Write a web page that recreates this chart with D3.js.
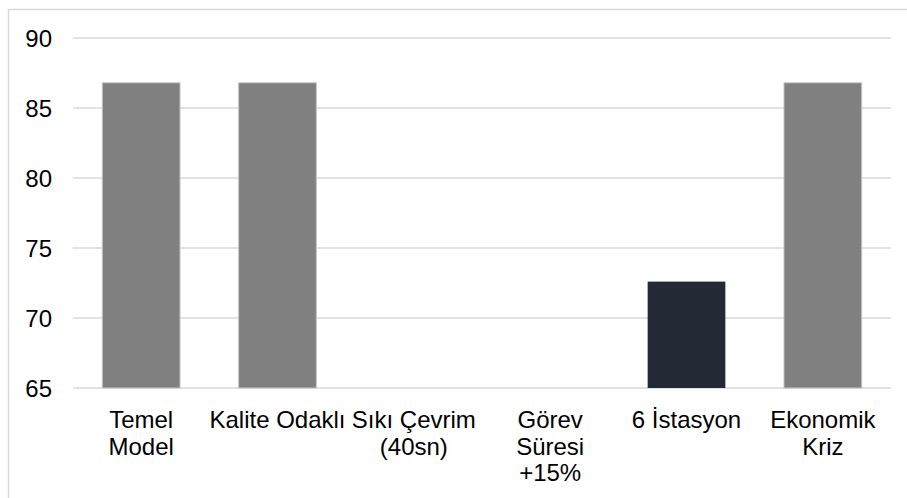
<!DOCTYPE html>
<html>
<head>
<meta charset="utf-8">
<script src="https://cdn.jsdelivr.net/npm/d3@7"></script>
<style>
  html, body { margin: 0; padding: 0; background: #fff; overflow: hidden; }
  text { font-family: "Liberation Sans", Arial, sans-serif; }
</style>
</head>
<body>
<div id="chart"></div>
<script>
// scenario names, each split into its wrapped label lines
var categories = ["Temel Model", "Kalite Odaklı", "Sıkı Çevrim (40sn)", "Görev Süresi +15%", "6 İstasyon", "Ekonomik Kriz"];
var labelLines = [["Temel", "Model"], ["Kalite Odaklı"], ["Sıkı Çevrim", "(40sn)"], ["Görev", "Süresi", "+15%"], ["6 İstasyon"], ["Ekonomik", "Kriz"]];
// null = no visible bar (below axis minimum)
var values = [86.8, 86.8, null, null, 72.6, 86.8];
var highlighted = [false, false, false, false, true, false];
var yTicks = [65, 70, 75, 80, 85, 90];

var W = 907, H = 498;
var margin = {top: 38, right: 16, bottom: 110, left: 73};
var width = W - margin.left - margin.right;
var height = H - margin.top - margin.bottom;

var svg = d3.select("#chart").append("svg")
  .attr("width", W)
  .attr("height", H);

// outer chart-area border (runs past the window on right/bottom)
svg.append("rect")
  .attr("x", 8.5).attr("y", 9.5)
  .attr("width", 1200).attr("height", 1200)
  .attr("fill", "none")
  .attr("stroke", "#d9d9d9")
  .attr("stroke-width", 1.5);

var plot = svg.append("g")
  .attr("transform", "translate(" + margin.left + "," + margin.top + ")");

var x = d3.scaleBand().domain(categories).range([0, width]).paddingInner(0.43).paddingOuter(0.215);
var y = d3.scaleLinear().domain([65, 90]).range([height, 0]);

// gridlines
plot.selectAll("line.grid").data(yTicks).enter()
  .append("line")
    .attr("class", "grid")
    .attr("x1", 0).attr("x2", width)
    .attr("y1", d => y(d)).attr("y2", d => y(d))
    .attr("stroke", "#d9d9d9")
    .attr("stroke-width", 1.5);

// y axis labels
var yAxisCall = d3.axisLeft(y).tickValues(yTicks).tickSize(0).tickPadding(21);
var yAxis = plot.append("g").call(yAxisCall);
yAxis.select(".domain").remove();
yAxis.selectAll("text")
  .attr("font-size", "24px")
  .attr("font-family", "Liberation Sans, Arial, sans-serif")
  .attr("fill", "#000")
  .attr("dy", "0.36em");

// bars
var barData = categories.map(function(c, i) { return {cat: c, v: values[i], hi: highlighted[i]}; })
  .filter(d => d.v != null && d.v > 65);
plot.selectAll("rect.bar").data(barData).enter()
  .append("rect")
    .attr("class", "bar")
    .attr("x", d => x(d.cat))
    .attr("y", d => y(d.v))
    .attr("width", x.bandwidth())
    .attr("height", d => y(65) - y(d.v))
    .attr("fill", d => d.hi ? "#232a35" : "#808080")
    .attr("stroke", d => d.hi ? "none" : "#c4c4c4")
    .attr("stroke-width", 1);

// category labels
var labels = plot.selectAll("text.cat").data(categories).enter()
  .append("text")
    .attr("class", "cat")
    .attr("text-anchor", "middle")
    .attr("font-size", "24px")
    .attr("fill", "#000")
    .attr("transform", d => "translate(" + (x(d) + x.bandwidth() / 2) + "," + (height + 40) + ")");
labels.each(function(d, i) {
  var t = d3.select(this);
  labelLines[i].forEach(function(line, j) {
    t.append("tspan").attr("x", 0).attr("y", j * 26.5).text(line);
  });
});
</script>
</body>
</html>
